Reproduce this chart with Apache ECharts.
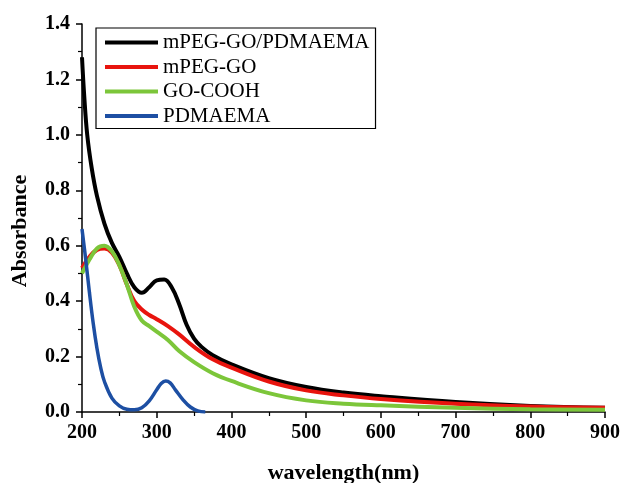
<!DOCTYPE html>
<html>
<head>
<meta charset="utf-8">
<script src="https://cdn.jsdelivr.net/npm/echarts@6/dist/echarts.min.js"></script>
<style>
  html, body { margin: 0; padding: 0; background: #fff; }
</style>
</head>
<body>
<div id="myChart" style="width:621px;height:483px;"></div>
<script>
// wavelength (nm) / absorbance
const names = ['mPEG-GO/PDMAEMA', 'mPEG-GO', 'GO-COOH', 'PDMAEMA'];
const colors = ['#000000', '#e8140e', '#7cc63a', '#1d4fa3'];

const wlBlack = [200, 203, 207, 213, 220, 230, 240, 250, 260, 270, 280, 290, 300, 310, 320, 330, 340, 350, 360, 375, 400, 450, 500, 550, 600, 700, 800, 900];
const absBlack = [1.28, 1.14, 1.0, 0.88, 0.78, 0.68, 0.61, 0.56, 0.5, 0.45, 0.43, 0.45, 0.475, 0.478, 0.45, 0.39, 0.315, 0.265, 0.235, 0.205, 0.172, 0.122, 0.09, 0.07, 0.057, 0.036, 0.022, 0.015];

const wlRed = [200, 210, 220, 230, 240, 250, 260, 270, 280, 290, 300, 315, 330, 350, 375, 400, 450, 500, 550, 600, 700, 800, 900];
const absRed = [0.52, 0.56, 0.585, 0.59, 0.575, 0.53, 0.46, 0.4, 0.37, 0.35, 0.335, 0.31, 0.28, 0.235, 0.19, 0.16, 0.11, 0.078, 0.06, 0.047, 0.03, 0.02, 0.015];

const wlGreen = [200, 210, 220, 230, 240, 250, 260, 270, 280, 290, 300, 315, 330, 350, 375, 400, 450, 500, 550, 600, 700, 800, 900];
const absGreen = [0.5, 0.55, 0.59, 0.6, 0.58, 0.53, 0.46, 0.38, 0.33, 0.31, 0.29, 0.26, 0.22, 0.18, 0.14, 0.112, 0.068, 0.042, 0.03, 0.024, 0.015, 0.01, 0.008];

const wlBlue = [200, 205, 210, 215, 220, 225, 230, 240, 250, 260, 270, 280, 290, 300, 306, 312, 318, 325, 335, 345, 355, 365];
const absBlue = [0.66, 0.55, 0.43, 0.32, 0.23, 0.16, 0.11, 0.05, 0.022, 0.01, 0.008, 0.015, 0.04, 0.08, 0.103, 0.112, 0.105, 0.08, 0.045, 0.018, 0.004, 0];

const xTicks = [200, 300, 400, 500, 600, 700, 800, 900];
const yTicks = ['0.0', '0.2', '0.4', '0.6', '0.8', '1.0', '1.2', '1.4'];

function pairs(xs, ys) {
  return xs.map((x, i) => [x, ys[i]]);
}
const seriesData = [pairs(wlBlack, absBlack), pairs(wlRed, absRed), pairs(wlGreen, absGreen), pairs(wlBlue, absBlue)];

const serif = '"Liberation Serif", "Times New Roman", serif';

let myChart = echarts.init(document.getElementById('myChart'));
myChart.setOption({
  animation: false,
  backgroundColor: '#fff',
  grid: { left: 82, right: 16, top: 24, bottom: 71, outerBoundsMode: 'none', containLabel: false },
  legend: {
    orient: 'vertical',
    left: 96,
    top: 28,
    padding: [4, 6, 2, 9],
    borderColor: '#000',
    borderWidth: 1.2,
    itemWidth: 53,
    itemHeight: 4,
    itemGap: 3.5,
    icon: 'rect',
    data: names,
    textStyle: { fontFamily: serif, fontSize: 21, color: '#000', lineHeight: 21 }
  },
  xAxis: {
    type: 'value',
    min: 200, max: 900, interval: 100,
    name: 'wavelength(nm)',
    nameLocation: 'middle',
    nameGap: 50,
    nameTextStyle: { fontFamily: serif, fontSize: 22, fontWeight: 'bold', color: '#000' },
    axisLine: { lineStyle: { color: '#000', width: 1.5 } },
    axisTick: { show: true, length: 6, lineStyle: { color: '#000', width: 1.5 } },
    minorTick: { show: true, splitNumber: 2, length: 4, lineStyle: { color: '#000', width: 1.2 } },
    splitLine: { show: false },
    axisLabel: {
      fontFamily: serif, fontSize: 20, fontWeight: 'bold', color: '#000', margin: 11,
      formatter: v => xTicks.includes(v) ? String(v) : ''
    }
  },
  yAxis: {
    type: 'value',
    min: 0, max: 1.4, interval: 0.2,
    name: 'Absorbance',
    nameLocation: 'middle',
    nameGap: 51,
    nameTextStyle: { fontFamily: serif, fontSize: 22, fontWeight: 'bold', color: '#000', padding: [0, 0, 0, -26] },
    axisLine: { show: true, lineStyle: { color: '#000', width: 1.5 } },
    axisTick: { show: true, length: 6, lineStyle: { color: '#000', width: 1.5 } },
    minorTick: { show: true, splitNumber: 2, length: 4, lineStyle: { color: '#000', width: 1.2 } },
    splitLine: { show: false },
    axisLabel: {
      fontFamily: serif, fontSize: 20, fontWeight: 'bold', color: '#000', margin: 12,
      formatter: v => yTicks[Math.round(v / 0.2)]
    }
  },
  series: names.map((n, i) => ({
    name: n,
    type: 'line',
    data: seriesData[i],
    smooth: 0.4,
    showSymbol: false,
    color: colors[i],
    lineStyle: { color: colors[i], width: i === 3 ? 3.5 : 4 },
    z: 2 + i
  }))
});
</script>
</body>
</html>
